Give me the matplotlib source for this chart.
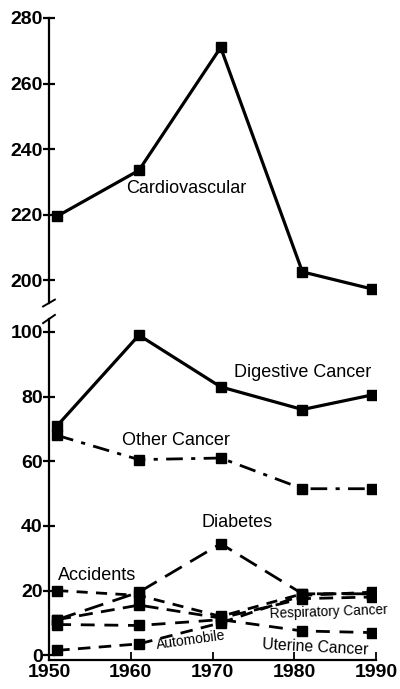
import matplotlib
matplotlib.use("Agg")
import matplotlib.pyplot as plt

plt.rcParams['font.family'] = ['Liberation Sans', 'DejaVu Sans']

years = [1951, 1961, 1971, 1981, 1989.5]
cardiovascular = [219.5, 233.5, 271, 202.5, 197.3]
digestive = [71, 99, 83, 76, 80.5]
other_cancer = [68, 60.5, 61, 51.5, 51.5]
diabetes = [11, 19.5, 34.5, 19, 19]
accidents = [20, 18.5, 12, 19, 19]
respiratory = [11, 15.5, 11.5, 17.5, 18]
automobile = [1.5, 3.5, 10, 18.5, 19.5]
uterine = [9.5, 9.2, 11, 7.5, 7]

xticks = [1950, 1960, 1970, 1980, 1990]
upper_ticks = [200, 220, 240, 260, 280]
lower_ticks = [0, 20, 40, 60, 80, 100]

fig = plt.figure(figsize=(4.0, 6.89), dpi=100)
left, width = 0.1225, 0.8175
ax_u = fig.add_axes([left, 0.5602, width, 0.4137])
ax_l = fig.add_axes([left, 0.0420, width, 0.4950])

ms = 7
common = dict(color='black', marker='s', markersize=ms)

ax_u.plot(years, cardiovascular, lw=2.3, **common)
ax_l.plot(years, digestive, lw=2.3, **common)
ax_l.plot(years, other_cancer, lw=2.0, dashes=(6, 3, 1.5, 3), **common)
ax_l.plot(years, diabetes, lw=2.0, dashes=(7, 3.5), **common)
ax_l.plot(years, accidents, lw=2.0, dashes=(4, 3), **common)
ax_l.plot(years, respiratory, lw=2.0, dashes=(5, 3), **common)
ax_l.plot(years, automobile, lw=2.0, dashes=(4.5, 3), **common)
ax_l.plot(years, uterine, lw=2.0, dashes=(5, 3.5), **common)

for ax in (ax_u, ax_l):
    ax.set_xlim(1950, 1990)
    ax.spines['top'].set_visible(False)
    ax.spines['right'].set_visible(False)
    ax.spines['left'].set_linewidth(1.6)
    ax.tick_params(axis='y', direction='inout', length=9, width=1.6,
                   labelsize=14, pad=0)
    ax.patch.set_visible(False)

ax_u.set_ylim(193, 280)
ax_u.set_yticks(upper_ticks)
ax_u.spines['bottom'].set_visible(False)
ax_u.set_xticks([])

ax_l.set_ylim(-1.5, 104)
ax_l.set_yticks(lower_ticks)
ax_l.spines['bottom'].set_linewidth(1.6)
ax_l.set_xticks(xticks)
ax_l.tick_params(axis='x', direction='in', length=6, width=1.3,
                 labelsize=14, pad=3)

for ax in (ax_u, ax_l):
    for lab in ax.get_xticklabels() + ax.get_yticklabels():
        lab.set_fontweight('bold')

# break marks
for ax, y0 in ((ax_u, 0.0), (ax_l, 1.0)):
    ax.plot([-0.018, 0.018], [y0 - 0.012, y0 + 0.012], transform=ax.transAxes,
            color='black', lw=1.4, clip_on=False)

fs = 13
ax_u.text(1959.4, 228.1, 'Cardiovascular', fontsize=fs, va='center', ha='left')
ax_l.text(1972.6, 87.4, 'Digestive Cancer', fontsize=fs, va='center', ha='left')
ax_l.text(1958.9, 66.5, 'Other Cancer', fontsize=fs, va='center', ha='left')
ax_l.text(1968.7, 40.9, 'Diabetes', fontsize=fs, va='center', ha='left')
ax_l.text(1951.1, 24.6, 'Accidents', fontsize=fs, va='center', ha='left')
ax_l.text(1977.0, 12.9, 'Respiratory Cancer', fontsize=9.8, va='center',
          ha='left', rotation=2, rotation_mode='anchor')
ax_l.text(1963.2, 3.0, 'Automobile', fontsize=10, va='center',
          ha='left', rotation=8, rotation_mode='anchor')
ax_l.text(1976.1, 3.4, 'Uterine Cancer', fontsize=11.3, va='center',
          ha='left', rotation=-3, rotation_mode='anchor')

fig.savefig('out.png', dpi=100)
